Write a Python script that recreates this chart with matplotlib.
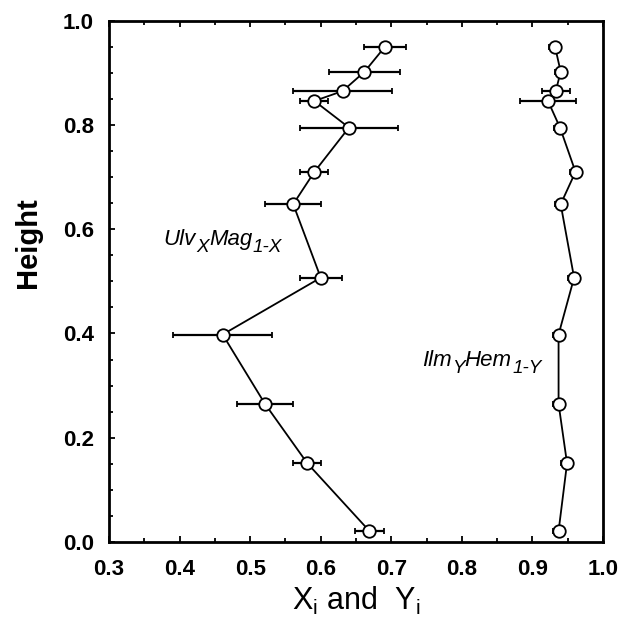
import matplotlib
matplotlib.use("Agg")
import matplotlib.pyplot as plt
from matplotlib.ticker import MultipleLocator

plt.rcParams['font.family'] = ['Liberation Sans', 'DejaVu Sans']
plt.rcParams['mathtext.fontset'] = 'custom'
plt.rcParams['mathtext.rm'] = 'Liberation Sans'
plt.rcParams['mathtext.it'] = 'Liberation Sans:italic'

heights = [0.95, 0.902, 0.865, 0.846, 0.795, 0.71, 0.648, 0.507, 0.398, 0.265, 0.151, 0.021]

# Ulvospinel fraction (X) vs height
ulv_x = [0.691, 0.662, 0.631, 0.591, 0.640, 0.591, 0.561, 0.600, 0.461, 0.521, 0.581, 0.669]
ulv_err = [0.03, 0.05, 0.07, 0.02, 0.07, 0.02, 0.04, 0.03, 0.07, 0.04, 0.02, 0.02]

# Ilmenite fraction (Y) vs height
ilm_x = [0.932, 0.940, 0.933, 0.922, 0.939, 0.961, 0.940, 0.959, 0.937, 0.937, 0.949, 0.937]
ilm_err = [0.008, 0.008, 0.02, 0.04, 0.008, 0.008, 0.008, 0.008, 0.008, 0.008, 0.008, 0.008]

fig = plt.figure(figsize=(6.24, 6.23), dpi=100)
ax = fig.add_axes([0.1747, 0.130, 0.7917, 0.8368])

style = dict(fmt='-o', color='black', mfc='white', mec='black', ms=9, mew=1.3,
             lw=1.3, elinewidth=1.6, capsize=2.5, capthick=2)
ax.errorbar(ulv_x, heights, xerr=ulv_err, **style)
ax.errorbar(ilm_x, heights, xerr=ilm_err, **style)


def chem_label(x, y, parts, size):
    # parts: list of (text, is_subscript)
    prev = ax.text(x, y, parts[0][0], fontsize=size, style='italic', va='bottom')
    was_sub = False
    for txt, sub in parts[1:]:
        dy = -4 if sub else (4 if was_sub else 0)
        fs = size * 0.85 if sub else size
        prev = ax.annotate(txt, xy=(1, 0), xycoords=prev, xytext=(0.3, dy),
                           textcoords='offset points', fontsize=fs,
                           style='italic', va='bottom')
        was_sub = sub


chem_label(0.377, 0.56, [('Ulv', False), ('X', True), ('Mag', False), ('1-X', True)], 16)
chem_label(0.743, 0.328, [('Ilm', False), ('Y', True), ('Hem', False), ('1-Y', True)], 16)

ax.set_xlim(0.3, 1.0)
ax.set_ylim(0.0, 1.0)
ax.xaxis.set_major_locator(MultipleLocator(0.1))
ax.xaxis.set_minor_locator(MultipleLocator(0.05))
ax.yaxis.set_major_locator(MultipleLocator(0.2))
ax.yaxis.set_minor_locator(MultipleLocator(0.05))
ax.xaxis.set_major_formatter(plt.FormatStrFormatter('%.1f'))
ax.yaxis.set_major_formatter(plt.FormatStrFormatter('%.1f'))
ax.tick_params(which='both', direction='in', top=True, right=False, width=1.3)
ax.tick_params(which='major', length=4, labelsize=16)
ax.tick_params(which='minor', length=3)
ax.tick_params(axis='x', pad=12)
ax.tick_params(axis='y', pad=11)
for lab in ax.get_xticklabels() + ax.get_yticklabels():
    lab.set_fontweight('bold')
for sp in ax.spines.values():
    sp.set_linewidth(2)

ax.set_ylabel('Height', fontsize=21, fontweight='bold')
ax.yaxis.set_label_coords(-0.136, 0.575)
ax.set_xlabel(r'X$_\mathrm{i}$ and  Y$_\mathrm{i}$', fontsize=22, labelpad=4)

fig.savefig('out.png', dpi=100)
